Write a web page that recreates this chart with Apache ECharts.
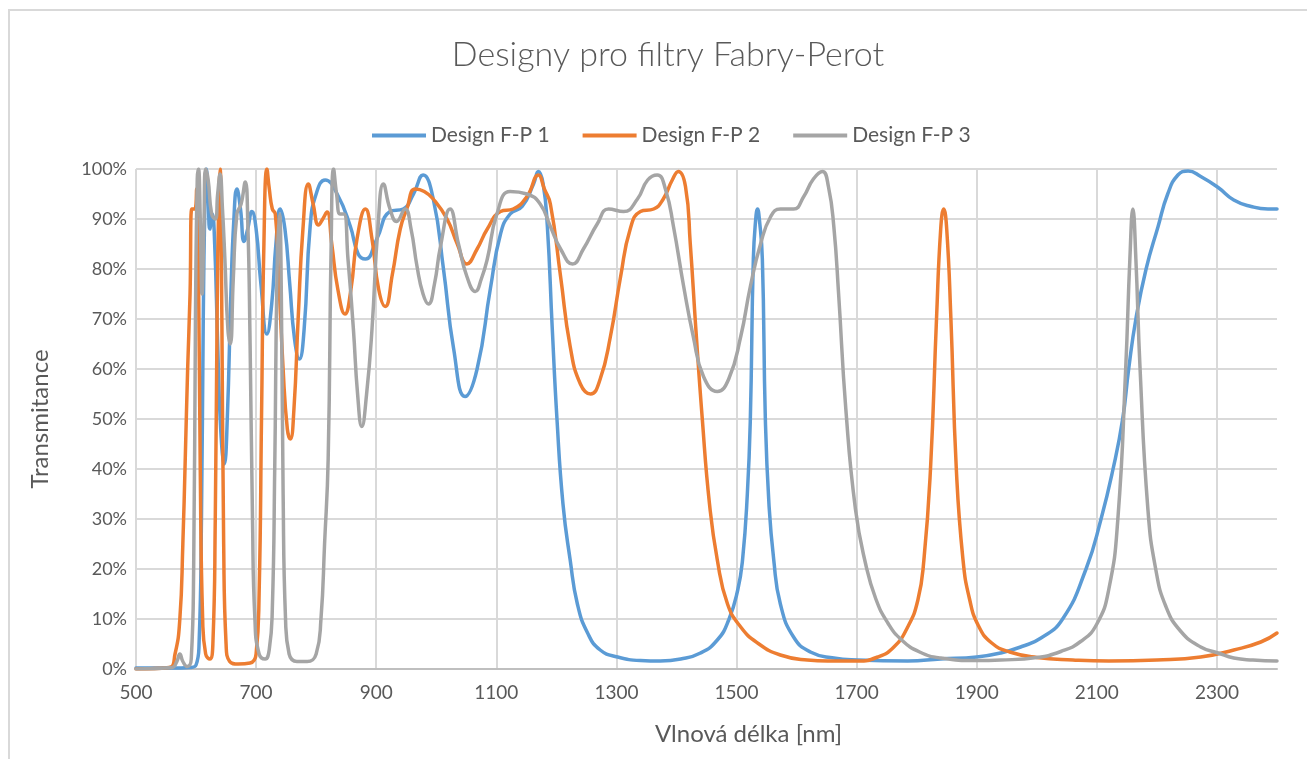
<!DOCTYPE html>
<html>
<head>
<meta charset="utf-8">
<title>Designy pro filtry Fabry-Perot</title>
<script src="https://cdn.jsdelivr.net/npm/echarts@6/dist/echarts.min.js"></script>
<style>
  html, body { margin: 0; padding: 0; background: #ffffff; overflow: hidden; }
  #chart { position: absolute; left: 0; top: 0; width: 1307px; height: 759px; }
  #frame { position: absolute; left: 8px; top: 9px; width: 1400px; height: 900px;
           border: 2px solid #d9d9d9; box-sizing: border-box; pointer-events: none; }
</style>
</head>
<body>
<div id="chart"></div>
<div id="frame"></div>
<script>
// Wavelength [nm] / transmittance [%] pairs for each filter design
const fp1 = [
  [500,0.2],[560,0.2],[590,0.3],[600,0.8],[605,5],[609,30],[612,70],[615,95],[617,100],[620,95],
  [623,88],[627,91],[631,85],[636,65],[641,48],[647,41],[652,50],[658,75],[663,90],[668,96],
  [674,92],[680,85.5],[686,88],[693,91.5],[700,88],[708,77],[718,67],[726,73],[733,85],[740,92],
  [748,88],[756,77],[764,66],[772,62],[780,68],[790,88.5],[800,95],[815,97.8],[835,95],[857,88.5],
  [870,83],[882,82],[901,86],[923,91.5],[945,92],[962,95],[978,98.8],[995,94],[1012,80],[1029,64],
  [1048,54.5],[1068,60],[1090,76],[1107,87],[1123,91],[1143,92.5],[1162,97],[1170,99.5],[1178,97],
  [1185,88.5],[1193,68.5],[1201,50],[1211,33],[1223,21.8],[1235,13],[1252,7.2],[1273,3.8],[1302,2.4],
  [1340,1.7],[1373,1.6],[1407,2],[1440,3.2],[1468,5.8],[1487,9.8],[1502,15.8],[1510,21.8],[1518,35],
  [1523,50],[1528,82],[1532,90],[1535,92],[1538,90],[1543,82],[1548,50],[1554,33],[1562,21.8],
  [1573,13],[1595,6.4],[1623,3.4],[1662,2.2],[1702,1.8],[1785,1.6],[1840,2],[1900,2.4],[1940,3.2],
  [1975,4.5],[2007,6.2],[2043,10],[2082,20],[2107,30],[2127,40],[2143,50],[2153,60],[2165,70],
  [2182,80],[2202,88.5],[2218,95],[2235,98.8],[2252,99.6],[2273,98.5],[2302,96.3],[2328,93.8],
  [2357,92.5],[2385,92],[2400,92]
];
const fp2 = [
  [500,0],[555,0.3],[565,3],[573,10],[578,25],[582,42],[586,60],[590,75],[593,92],[598,92],
  [601,96],[604,80],[607,40],[611,10],[616,3],[623,2],[628,5],[632,30],[635,70],[638,95],
  [640,100],[643,70],[646,25],[650,5],[656,1.5],[670,1],[690,1.2],[700,3],[705,15],[709,50],
  [713,85],[718,100],[722,96],[727,92],[732,91],[737,80],[745,60],[752,48],[757,46],[763,52],
  [770,70],[778,88],[787,97],[795,93],[804,88.8],[811,90],[818,91.4],[826,85],[836,76],[848,71],
  [858,76],[868,86],[882,92],[893,86],[904,76],[915,72.5],[927,79],[940,88],[951,92],[965,96],
  [980,95.5],[995,94],[1018,90],[1035,85],[1051,81],[1068,84],[1085,88],[1107,91.5],[1128,92],
  [1151,94.5],[1170,98.8],[1180,96],[1190,93],[1207,78.5],[1223,64.5],[1240,57],[1257,55],
  [1273,58],[1290,66.5],[1307,78.5],[1323,88],[1340,91.5],[1362,92],[1378,94],[1393,97.8],
  [1403,99.5],[1415,96.5],[1423,85],[1432,68.5],[1443,50],[1455,33],[1468,21.8],[1485,13],
  [1507,8.4],[1535,5.2],[1573,2.8],[1618,1.8],[1652,1.6],[1702,1.6],[1735,2.4],[1762,4.4],
  [1785,8.4],[1802,13.8],[1812,21.8],[1823,40],[1833,70],[1840,88],[1845,92],[1850,88],[1857,70],
  [1866,40],[1877,22],[1888,14],[1903,8.6],[1925,5.2],[1955,3.4],[2000,2.3],[2060,1.8],[2120,1.6],
  [2200,1.8],[2273,2.4],[2328,3.8],[2373,5.4],[2400,7.2]
];
const fp3 = [
  [500,0],[560,0.3],[568,1.5],[573,3],[578,1.5],[585,0.5],[592,2],[596,20],[599,70],[602,98],
  [604,100],[607,90],[610,75],[613,88],[616,100],[620,98],[626,91],[632,90],[636,95],[640,99],
  [644,92],[648,82],[653,68],[657,65],[662,78],[668,91],[675,93],[682,97.4],[686,90],[690,65],
  [694,30],[698,10],[705,3],[715,2],[722,4],[727,12],[731,40],[735,80],[739,91],[742,75],
  [745,35],[749,10],[755,3],[768,1.5],[785,1.5],[800,3],[808,10],[814,25],[820,42],[825,85],
  [829,100],[834,95],[840,91],[846,91],[853,82],[862,68],[869,55],[876,48.5],[884,55],[893,68],
  [903,88.5],[912,97],[923,92],[934,89.5],[948,92],[958,88],[968,80.5],[978,75],[987,73],[997,77],
  [1007,84.5],[1023,92],[1037,85],[1051,78.5],[1065,75.5],[1075,78],[1085,82],[1101,91],[1123,95.5],
  [1151,95],[1173,93],[1190,88.5],[1207,84],[1227,81],[1245,84],[1268,89],[1287,92],[1312,91.5],
  [1335,94],[1352,97.8],[1368,98.8],[1382,95.8],[1395,88.5],[1412,76.5],[1428,66.5],[1445,58.5],
  [1468,55.5],[1487,58],[1507,66.5],[1523,76.5],[1540,85],[1557,90.5],[1573,92],[1595,92],
  [1612,94.5],[1628,98],[1643,99.5],[1653,96.5],[1662,88.5],[1670,75],[1682,52],[1698,32],
  [1715,21],[1732,14],[1752,9.2],[1775,5.8],[1805,3.4],[1840,2.2],[1900,1.7],[1940,1.8],
  [2000,2.3],[2040,3.5],[2073,5.5],[2100,9],[2120,16],[2135,30],[2148,60],[2155,82],[2160,92],
  [2165,82],[2172,60],[2185,32],[2198,20],[2215,12.5],[2240,7.5],[2273,4.4],[2302,3.2],[2328,2.2],
  [2360,1.8],[2400,1.6]
];

const seriesNames = ['Design F-P 1', 'Design F-P 2', 'Design F-P 3'];
const seriesColors = ['#5B9BD5', '#ED7D31', '#A5A5A5'];
const seriesData = [fp1, fp2, fp3];

const xMin = 500, xMax = 2400, xStep = 200;
const yMin = 0, yMax = 100, yStep = 10;

const FONT = 'Lato';
const TEXT = '#595959';

const chart = echarts.init(document.getElementById('chart'), null, { renderer: 'canvas' });

chart.setOption({
  animation: false,
  backgroundColor: 'transparent',
  textStyle: { fontFamily: FONT, color: TEXT },
  title: {
    text: 'Designy pro filtry Fabry-Perot',
    left: 663, top: 33, textAlign: 'center',
    textStyle: { fontFamily: FONT, fontSize: 34, fontWeight: 300, color: TEXT }
  },
  legend: {
    top: 120, left: 367,
    icon: 'rect', itemWidth: 54, itemHeight: 4, itemGap: 33,
    textStyle: { fontFamily: FONT, fontSize: 21, color: TEXT },
    data: seriesNames
  },
  grid: { left: 136, right: 30, top: 169, bottom: 90, containLabel: false },
  xAxis: {
    type: 'value', min: xMin, max: xMax, interval: xStep,
    name: 'Vlnová délka [nm]', nameLocation: 'middle', nameGap: 53,
    nameTextStyle: { fontFamily: FONT, fontSize: 24, color: TEXT, padding: [0, 0, 0, 84] },
    axisLine: { show: true, lineStyle: { color: '#bfbfbf', width: 2 } },
    axisTick: { show: false },
    axisLabel: { fontFamily: FONT, fontSize: 19, color: TEXT, margin: 14, showMaxLabel: false,
                 formatter: v => String(v) },
    splitLine: { show: true, showMaxLine: false, lineStyle: { color: '#d9d9d9', width: 2 } }
  },
  yAxis: {
    type: 'value', min: yMin, max: yMax, interval: yStep,
    name: 'Transmitance', nameLocation: 'middle', nameGap: 84, nameRotate: 90,
    nameTextStyle: { fontFamily: FONT, fontSize: 24, color: TEXT },
    axisLine: { show: false },
    axisTick: { show: false },
    axisLabel: { fontFamily: FONT, fontSize: 18, color: TEXT, margin: 9, formatter: '{value}%' },
    splitLine: { show: true, lineStyle: { color: '#d9d9d9', width: 2 } }
  },
  series: seriesData.map((d, i) => ({
    name: seriesNames[i],
    type: 'line',
    data: d,
    symbol: 'none',
    smooth: 0.5,
    clip: true,
    lineStyle: { color: seriesColors[i], width: 3.5, cap: 'round', join: 'round' },
    itemStyle: { color: seriesColors[i] }
  }))
});
</script>
</body>
</html>
